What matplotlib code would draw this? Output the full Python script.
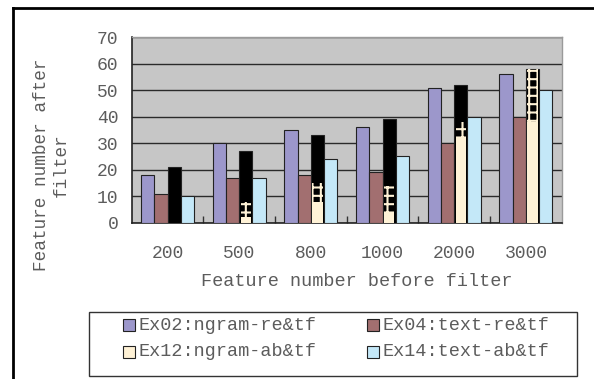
import matplotlib
matplotlib.use("Agg")
import matplotlib.pyplot as plt
import numpy as np
from matplotlib.patches import Rectangle
from matplotlib.lines import Line2D

# ---- data ----
categories = ["200", "500", "800", "1000", "2000", "3000"]
ex02 = [18, 30, 35, 36, 51, 56]
ex04 = [11, 17, 18, 19, 30, 40]
ex12 = [0, 2, 8, 4, 32, 38]
ex12_dark = [21, 27, 33, 39, 52, 58]      # dark bar sharing the Ex12 slot
ex12_speckle_top = [0, 8, 15, 14, 38, 58]  # upper edge of the speckled band
ex14 = [10, 17, 24, 25, 40, 50]
labels = ["Ex02:ngram-re&tf", "Ex04:text-re&tf", "Ex12:ngram-ab&tf", "Ex14:text-ab&tf"]
y_ticks = [0, 10, 20, 30, 40, 50, 60, 70]

# ---- style ----
W, H = 594, 379
colors = ["#9C97CB", "#A26F70", "#FFF2D6", "#C4E8F8"]
font = "Liberation Mono"
txt_color = "#5c5c5c"
fs_tick = 13.0
fs = 13.3
plt.rcParams["font.family"] = [font, "DejaVu Sans"]
plt.rcParams["hatch.linewidth"] = 1.5

fig = plt.figure(figsize=(W / 100, H / 100), dpi=100)
fig.patch.set_facecolor("white")

def fx(px):
    return px / W

def fy(py):
    return 1 - py / H

ax = fig.add_axes([fx(131.7), fy(222.7), fx(561.7) - fx(131.7), fy(37.3) - fy(222.7)])
ax.set_facecolor("#C6C6C6")

x = np.arange(len(categories))
bw = 0.185
edge = dict(edgecolor="#222222", linewidth=0.8)

ax.bar(x - 1.5 * bw, ex02, bw, color=colors[0], zorder=3, **edge)
ax.bar(x - 0.5 * bw, ex04, bw, color=colors[1], zorder=3, **edge)
ax.bar(x + 0.5 * bw, ex12_dark, bw, color="black", zorder=3, **edge)
speckle_h = [t - b for t, b in zip(ex12_speckle_top, ex12)]
ax.bar(x + 0.5 * bw, speckle_h, bw * 0.8, bottom=ex12, color="black",
       edgecolor=colors[2], hatch="++", linewidth=0, zorder=4)
ax.bar(x + 0.5 * bw, ex12, bw * 0.8, color=colors[2], linewidth=0, zorder=4)
ax.bar(x + 1.5 * bw, ex14, bw, color=colors[3], zorder=3, **edge)

ax.set_xlim(-0.5, len(categories) - 0.5)
ax.set_ylim(0, 70)
ax.set_yticks(y_ticks)
ax.set_yticklabels([str(v) for v in y_ticks])
ax.set_xticks(x)
ax.set_xticklabels(categories)
ax.set_xticks(np.arange(len(categories) - 1) + 0.5, minor=True)
ax.tick_params(axis="x", which="major", length=0, pad=16, labelsize=fs_tick, labelcolor=txt_color)
ax.tick_params(axis="x", which="minor", direction="in", length=5, width=1, color="#333333")
ax.tick_params(axis="y", length=0, pad=9.6, labelsize=fs_tick, labelcolor=txt_color)

ax.yaxis.grid(True, color="#2a2a2a", linewidth=1.0, zorder=0)
ax.set_axisbelow(True)
for side in ("top", "right"):
    ax.spines[side].set_color("#9a9a9a")
    ax.spines[side].set_linewidth(1.0)
for side in ("left", "bottom"):
    ax.spines[side].set_color("#222222")
    ax.spines[side].set_linewidth(1.2)

# axis titles
fig.text(fx(357), fy(282), "Feature number before filter", ha="center", va="center",
         fontsize=fs, color=txt_color)
fig.text(fx(51), fy(165), "Feature number after\nfilter", ha="center", va="center",
         rotation=90, fontsize=12.8, color=txt_color, linespacing=1.2,
         multialignment="center")

# outer frame
fig.add_artist(Line2D([fx(12.5), fx(W)], [fy(7.5), fy(7.5)], color="black",
                      linewidth=2.0, transform=fig.transFigure))
fig.add_artist(Line2D([fx(12.5), fx(12.5)], [fy(7.5), fy(H)], color="black",
                      linewidth=2.0, transform=fig.transFigure))

# legend box
fig.add_artist(Rectangle((fx(89), fy(376)), fx(577) - fx(89), fy(312) - fy(376),
                         transform=fig.transFigure, facecolor="white",
                         edgecolor="#333333", linewidth=1.0))
col_x = [123, 367]
row_y = [325, 352]
for i, lab in enumerate(labels):
    cx = col_x[i % 2]
    cy = row_y[i // 2]
    fig.add_artist(Rectangle((fx(cx), fy(cy + 6)), fx(12), fy(cy - 6) - fy(cy + 6),
                             transform=fig.transFigure, facecolor=colors[i],
                             edgecolor="#222222", linewidth=0.8))
    fig.text(fx(cx + 16), fy(cy), lab, ha="left", va="center",
             fontsize=fs, color=txt_color)

fig.savefig("out.png", dpi=100)
